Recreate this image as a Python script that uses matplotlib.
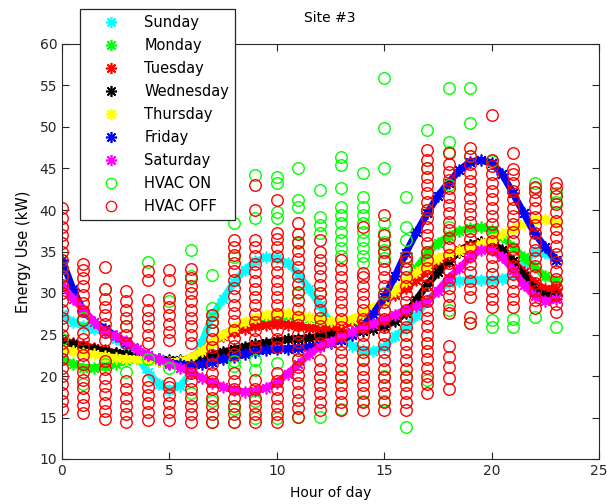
import numpy as np
import matplotlib
matplotlib.use("Agg")
import matplotlib.pyplot as plt
from matplotlib.lines import Line2D

# half-hour sample times for the weekday profiles
hours = np.arange(0, 23.01, 0.5)

sunday = [27.5, 26.5, 26.0, 25.7, 25.3, 24.5, 23.5, 22.2, 20.5, 19.0, 18.3, 18.8, 20.4, 24.0,
          27.3, 29.3, 31.3, 32.8, 33.8, 34.3, 34.2, 33.6, 32.3, 30.5, 28.5, 26.3, 24.6, 23.6,
          23.1, 23.0, 23.5, 24.8, 25.8, 27.3, 29.0, 30.3, 31.2, 31.5, 31.6, 31.6, 31.6, 31.7,
          32.2, 33.5, 35.0, 34.8, 34.0]
monday = [22.0, 21.5, 21.0, 21.0, 21.2, 21.5, 21.8, 22.0, 22.0, 21.8, 21.5, 21.5, 22.0, 23.0,
          24.0, 25.0, 25.8, 26.4, 26.8, 27.0, 27.2, 27.2, 27.2, 27.0, 26.8, 26.5, 26.5, 26.8,
          27.3, 28.0, 29.0, 30.0, 31.2, 33.0, 34.8, 36.0, 36.9, 37.5, 37.8, 37.9, 37.6, 36.8,
          35.5, 34.3, 33.1, 32.0, 31.5]
tuesday = [24.3, 24.0, 23.7, 23.4, 23.1, 22.8, 22.5, 22.2, 22.0, 21.8, 21.7, 21.8, 22.2, 23.0,
           24.0, 24.8, 25.3, 25.7, 26.0, 26.2, 26.3, 26.2, 26.0, 25.8, 25.7, 25.7, 26.0, 26.5,
           27.2, 28.0, 29.0, 29.8, 30.6, 31.6, 32.6, 33.6, 34.5, 35.2, 35.8, 36.1, 36.0, 35.0,
           33.8, 32.5, 31.2, 30.5, 30.5]
wednesday = [24.0, 23.8, 23.5, 23.2, 23.0, 22.8, 22.6, 22.4, 22.2, 22.0, 21.9, 21.9, 22.0, 22.2,
             22.5, 22.9, 23.2, 23.5, 23.8, 24.0, 24.2, 24.4, 24.5, 24.6, 24.8, 24.9, 25.0, 25.2,
             25.4, 25.7, 26.0, 26.6, 27.6, 29.2, 31.0, 32.5, 33.8, 35.0, 35.8, 36.1, 36.0, 35.2,
             33.8, 32.0, 30.5, 29.6, 29.8]
thursday = [23.3, 23.0, 22.8, 22.6, 22.4, 22.2, 22.1, 22.0, 21.9, 21.8, 21.7, 21.8, 22.2, 23.0,
            24.0, 25.0, 25.8, 26.5, 27.0, 27.4, 27.6, 27.6, 27.4, 27.1, 26.8, 26.6, 26.6, 26.9,
            27.5, 28.2, 29.0, 30.3, 31.5, 32.5, 33.3, 34.2, 34.8, 35.1, 35.4, 35.9, 36.5, 37.1,
            37.7, 38.3, 38.8, 38.9, 38.4]
friday = [34.0, 30.5, 27.8, 26.5, 25.7, 24.8, 24.0, 23.2, 22.5, 22.0, 21.6, 21.4, 21.3, 21.4,
          21.7, 22.0, 22.3, 22.6, 22.9, 23.1, 23.2, 23.3, 23.4, 23.5, 23.7, 24.0, 24.3, 25.0,
          26.0, 27.5, 29.5, 32.0, 34.8, 37.3, 39.6, 41.7, 43.3, 44.8, 45.8, 46.0, 45.7, 44.3,
          42.0, 39.6, 37.2, 35.5, 34.0]
saturday = [31.0, 29.3, 28.0, 26.5, 25.3, 24.8, 24.2, 23.2, 22.5, 22.0, 21.5, 21.0, 20.4, 19.8,
            19.2, 18.7, 18.3, 18.1, 18.2, 18.6, 19.2, 20.3, 21.4, 22.6, 23.5, 24.1, 24.7, 25.3,
            25.8, 26.3, 26.8, 27.4, 28.0, 28.4, 29.0, 30.3, 31.8, 33.0, 34.3, 35.2, 35.2, 34.3,
            32.8, 31.0, 29.6, 29.0, 29.3]

day_names = ["Sunday", "Monday", "Tuesday", "Wednesday", "Thursday", "Friday", "Saturday"]
day_colors = ["#00ffff", "#00ff00", "#ff0000", "#000000", "#ffff00", "#0000ff", "#ff00ff"]

# measured energy use per hour of day (kW)
hvac_on = [
    [22.0, 24.5, 32.0, 33.0],
    [19.0, 27.0],
    [21.5, 30.5],
    [20.5, 26.0],
    [22.0, 33.7],
    [21.0, 29.0],
    [18.0, 32.0, 35.2],
    [14.5, 17.0, 25.5, 26.5, 27.3, 28.2, 32.2],
    [14.4, 16.0, 21.2, 21.8, 34.3, 38.4],
    [15.0, 17.0, 20.7, 21.9, 39.0, 44.2],
    [15.0, 21.6, 39.0, 39.8, 43.3, 44.0],
    [15.1, 22.0, 30.0, 36.0, 40.4, 41.2, 45.1],
    [15.1, 30.0, 37.2, 38.2, 39.2, 42.4],
    [16.0, 20.0, 34.4, 35.4, 36.4, 37.4, 38.4, 39.4, 40.4, 42.6, 45.4, 46.4],
    [17.0, 22.0, 33.6, 34.4, 35.4, 36.4, 37.4, 38.4, 39.4, 40.4, 41.6, 44.5],
    [17.0, 20.0, 30.0, 34.2, 35.2, 36.2, 37.2, 38.4, 45.1, 49.9, 55.9],
    [13.9, 20.0, 25.0, 33.0, 34.3, 36.4, 38.0, 41.6],
    [19.5, 24.0, 30.0, 35.0, 40.0, 45.0, 49.6],
    [28.0, 38.0, 43.0, 47.0, 48.2, 54.7],
    [26.4, 46.5, 50.5, 54.7],
    [25.9, 26.7, 45.9],
    [25.9, 26.9],
    [27.1, 42.6, 43.3],
    [25.9, 41.0, 42.0],
]
hvac_off = [
    [16.0, 17.0, 18.0, 19.0, 20.0, 21.0, 22.0, 23.0, 24.0, 25.0, 26.0, 27.0, 28.0, 29.0, 30.0,
     31.0, 32.0, 33.0, 34.0, 35.0, 36.0, 37.0, 38.0, 39.0, 40.3],
    [15.5, 16.5, 17.5, 18.5, 19.5, 20.5, 21.5, 22.5, 23.5, 24.5, 25.2, 26.8, 27.8, 28.8, 29.8,
     30.8, 31.8, 32.8, 33.5],
    [14.8, 15.8, 16.8, 17.8, 18.8, 19.8, 20.8, 21.8, 24.3, 25.3, 26.3, 27.3, 28.3, 29.3, 30.5, 33.1],
    [14.4, 15.4, 16.4, 17.4, 18.4, 19.4, 24.0, 25.0, 26.0, 27.0, 28.0, 29.0, 30.2],
    [14.7, 15.7, 16.7, 17.7, 18.7, 19.5, 24.0, 25.0, 26.0, 27.0, 28.0, 29.1, 31.6, 32.6],
    [14.7, 15.7, 16.7, 17.7, 18.7, 19.2, 24.3, 25.3, 26.3, 27.3, 28.3, 29.4, 31.6, 32.8],
    [14.4, 15.4, 16.4, 17.4, 18.4, 19.4, 20.4, 21.1, 24.0, 25.0, 26.0, 27.0, 28.0, 29.0, 30.0,
     30.8, 31.8, 32.9],
    [14.4, 15.4, 16.4, 17.4, 18.4, 19.4, 20.4, 21.5, 22.5, 23.5, 24.5, 25.5, 26.5, 27.3],
    [14.4, 15.4, 16.4, 17.4, 18.4, 19.4, 20.4, 22.6, 23.6, 24.6, 25.6, 26.6, 27.6, 28.6, 29.6,
     30.6, 31.6, 32.6, 33.6, 34.6, 35.6, 36.4],
    [14.4, 15.4, 16.4, 17.4, 18.4, 19.5, 23.5, 24.5, 25.5, 26.5, 27.5, 28.5, 29.5, 30.5, 31.5,
     32.5, 33.5, 34.5, 35.5, 36.4, 40.0, 43.0],
    [14.4, 15.4, 16.4, 17.4, 18.4, 19.4, 20.4, 23.5, 24.5, 25.5, 26.5, 27.5, 28.5, 29.5, 30.5,
     31.5, 32.5, 33.5, 34.5, 35.5, 36.5, 37.2, 41.2],
    [15.1, 16.1, 17.1, 18.1, 19.1, 20.1, 21.1, 22.1, 23.1, 24.1, 25.1, 26.1, 27.1, 28.1, 29.1,
     30.1, 31.1, 32.1, 33.1, 34.1, 35.1, 36.1, 37.1, 38.4],
    [15.9, 16.9, 17.9, 18.9, 19.9, 20.9, 21.9, 24.0, 25.0, 26.0, 27.0, 28.0, 29.0, 30.0, 31.0,
     32.0, 33.0, 34.0, 35.0, 36.4],
    [15.9, 16.9, 17.9, 18.9, 19.9, 20.9, 21.9, 22.9, 23.9, 24.9, 25.9, 26.9, 27.9, 28.9, 29.9,
     30.9, 31.9, 32.9, 34.0],
    [15.9, 16.9, 17.9, 18.9, 19.9, 20.9, 21.9, 22.9, 23.9, 24.9, 25.9, 26.9, 27.9, 28.9, 29.9,
     30.9, 31.9, 32.4, 38.0],
    [15.9, 16.9, 17.9, 18.9, 19.9, 20.9, 21.9, 22.9, 23.9, 24.9, 25.9, 26.9, 27.9, 28.9, 29.9,
     30.9, 31.9, 32.9, 33.9, 34.9, 35.9, 37.0, 39.4],
    [15.9, 16.9, 17.9, 18.9, 19.9, 20.9, 21.9, 22.9, 23.9, 24.9, 25.9, 26.9, 27.9, 28.9, 29.9,
     30.9, 31.9, 32.9, 33.9, 34.3],
    [18.0, 19.0, 20.0, 21.0, 22.0, 23.0, 24.0, 25.0, 26.0, 27.0, 28.0, 29.0, 30.0, 31.0, 32.0,
     33.0, 34.0, 35.0, 36.0, 37.0, 38.0, 39.0, 40.0, 41.0, 42.0, 43.0, 44.0, 45.0, 46.0, 47.2],
    [18.4, 19.8, 21.1, 22.3, 23.6, 27.6, 28.6, 29.6, 30.6, 31.6, 32.6, 33.6, 34.6, 35.6, 36.6,
     37.6, 38.6, 39.6, 40.6, 41.6, 42.6, 43.6, 44.6, 45.6, 46.9],
    [26.4, 27.1, 29.5, 30.5, 31.5, 32.5, 33.5, 34.5, 35.5, 36.5, 37.5, 38.5, 39.5, 40.5, 41.5,
     42.5, 43.5, 44.5, 45.5, 46.5, 47.5],
    [28.3, 29.3, 30.3, 31.3, 32.3, 33.3, 34.3, 35.3, 36.3, 37.3, 38.3, 39.3, 40.3, 41.3, 42.3,
     43.3, 44.3, 45.3, 46.0, 51.4],
    [28.3, 29.3, 30.3, 31.3, 32.3, 33.3, 34.3, 35.3, 36.3, 37.3, 38.3, 39.3, 40.3, 41.3, 42.3,
     43.3, 44.3, 44.9, 46.9],
    [28.2, 29.2, 30.2, 31.2, 32.2, 33.2, 34.2, 35.2, 36.2, 37.2, 38.2, 39.2, 40.2, 41.2, 42.2, 42.8],
    [27.7, 28.7, 29.7, 30.7, 31.7, 32.7, 33.7, 34.7, 35.7, 36.7, 37.7, 38.7, 39.7, 40.7, 41.7,
     42.7, 43.3],
]

profiles = [sunday, monday, tuesday, wednesday, thursday, friday, saturday]
asterisk = (8, 2, 0)

fig = plt.figure(figsize=(6.07, 5.04), dpi=100)
ax = fig.add_axes([62 / 607, 45 / 504, 537 / 607, 415 / 504])

for prof, col in zip(profiles, day_colors):
    ax.plot(hours, prof, color=col, lw=5, marker=asterisk, ms=8.5, mew=1.2,
            solid_capstyle="butt")

on_x = [h for h, vals in enumerate(hvac_on) for _ in vals]
on_y = [v for vals in hvac_on for v in vals]
off_x = [h for h, vals in enumerate(hvac_off) for _ in vals]
off_y = [v for vals in hvac_off for v in vals]
ax.plot(on_x, on_y, "o", mfc="none", mec="#00ff00", ms=8.3, mew=1.0, ls="none")
ax.plot(off_x, off_y, "o", mfc="none", mec="#ff0000", ms=8.3, mew=1.0, ls="none")

ax.set_xlim(0, 25)
ax.set_ylim(10, 60)
ax.set_xticks(range(0, 26, 5))
ax.set_yticks(range(10, 61, 5))
ax.tick_params(direction="in", top=True, right=True, length=5, labelsize=10,
               colors="#262626", labelcolor="#262626")
for sp in ax.spines.values():
    sp.set_color("#262626")
ax.set_xlabel("Hour of day", fontsize=10, labelpad=6)
ax.set_ylabel("Energy Use (kW)", fontsize=10.5, labelpad=6)
fig.text(330 / 607, 1 - 18 / 504, "Site #3", ha="center", va="center", fontsize=10)

handles = [Line2D([], [], ls="none", marker=asterisk, color=c, ms=8, mew=1.2)
           for c in day_colors]
handles += [Line2D([], [], ls="none", marker="o", mfc="none", mec="#00ff00", ms=7.5, mew=0.9),
            Line2D([], [], ls="none", marker="o", mfc="none", mec="#ff0000", ms=7.5, mew=0.9)]
labels = day_names + ["HVAC ON", "HVAC OFF"]
leg = fig.legend(handles, labels, loc="upper left", bbox_to_anchor=(80 / 607, 1 - 9 / 504),
                 fontsize=10.5, frameon=True, fancybox=False, framealpha=1,
                 edgecolor="#262626", handlelength=3.4, handletextpad=0.6,
                 labelspacing=0.55, borderpad=0.4, borderaxespad=0)
leg.get_frame().set_linewidth(0.9)

fig.savefig("out.png", dpi=100)
